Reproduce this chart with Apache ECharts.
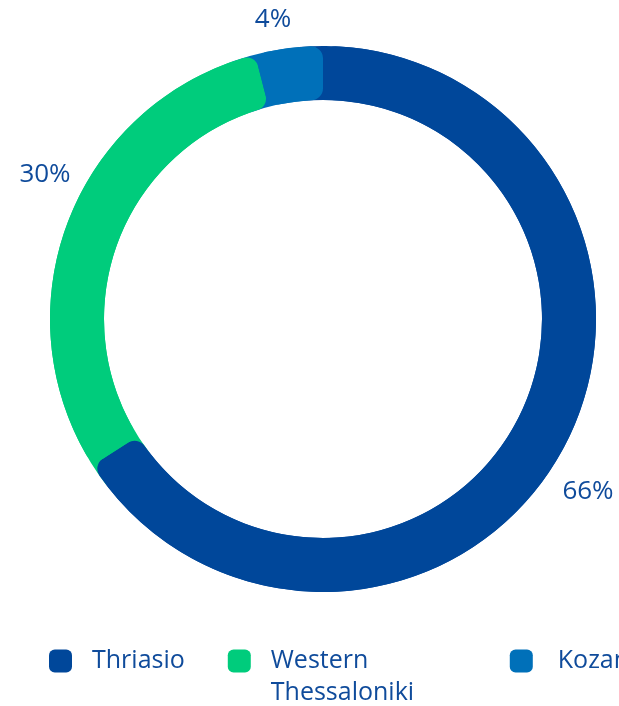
<!DOCTYPE html>
<html>
<head>
<meta charset="utf-8">
<script src="https://cdn.jsdelivr.net/npm/echarts@6/dist/echarts.min.js"></script>
<style>
html,body{margin:0;padding:0;background:#fff;}
#chart{width:619px;height:706px;}
</style>
</head>
<body>
<div id="chart"></div>
<script>
const categories = ['Thriasio', 'Western Thessaloniki', 'Kozani'];
const shares = [66, 30, 4];
const colors = ['#00479a', '#00cc7c', '#0070b9'];

const textColor = '#0f4b9b';
const fontFamily = '"Open Sans", "Noto Sans", sans-serif';
const overlapDeg = 5;
// label anchor points (centre of each percentage text)
const labelAnchors = [[588, 492], [45, 175], [273, 20]];
// gap between legend icon and its text, per item
const legendTextGap = [15, 15, 20];

const pieData = categories.map((name, i) => ({
  name: name,
  value: shares[i],
  itemStyle: { color: colors[i] }
}));

const chart = echarts.init(document.getElementById('chart'), null, { renderer: 'canvas' });

chart.setOption({
  animation: false,
  backgroundColor: '#ffffff',
  color: colors,
  legend: {
    left: 49,
    top: 613,
    padding: 0,
    width: 3000,
    orient: 'horizontal',
    icon: 'roundRect',
    itemWidth: 23,
    itemHeight: 23,
    itemGap: 43,
    textStyle: {
      color: textColor,
      fontFamily: fontFamily,
      fontSize: 25
    },
    data: categories.map((name, i) => name === 'Western Thessaloniki'
      ? { name: name, textStyle: { width: 196, overflow: 'break', lineHeight: 32, padding: [0, 0, 0, legendTextGap[i]] } }
      : { name: name, textStyle: { padding: [0, 0, 0, legendTextGap[i]] } }),
    formatter: function (name) {
      // long names wrap below the icon row: keep first line level with the icon
      return name === 'Western Thessaloniki' ? '\n' + name : name;
    }
  },
  series: [
    {
      type: 'pie',
      z: 1,
      silent: true,
      legendHoverLink: false,
      center: [323, 319],
      radius: [219, 273],
      startAngle: 90 + overlapDeg,
      clockwise: true,
      label: { show: false },
      labelLine: { show: false },
      emphasis: { disabled: true },
      data: pieData
    },
    {
      type: 'pie',
      z: 2,
      center: [323, 319],
      radius: [219, 273],
      startAngle: 90,
      clockwise: true,
      itemStyle: { borderRadius: 12 },
      label: {
        show: true,
        position: 'outside',
        formatter: '{c}%',
        color: textColor,
        fontFamily: fontFamily,
        fontSize: 26,
        overflow: 'none'
      },
      labelLine: { show: false, length: 18, length2: 0 },
      labelLayout: function (params) {
        const p = labelAnchors[params.dataIndex];
        return { x: p[0], y: p[1], align: 'center', verticalAlign: 'middle', hideOverlap: false };
      },
      emphasis: { scale: false },
      data: pieData
    }
  ]
});
</script>
</body>
</html>
